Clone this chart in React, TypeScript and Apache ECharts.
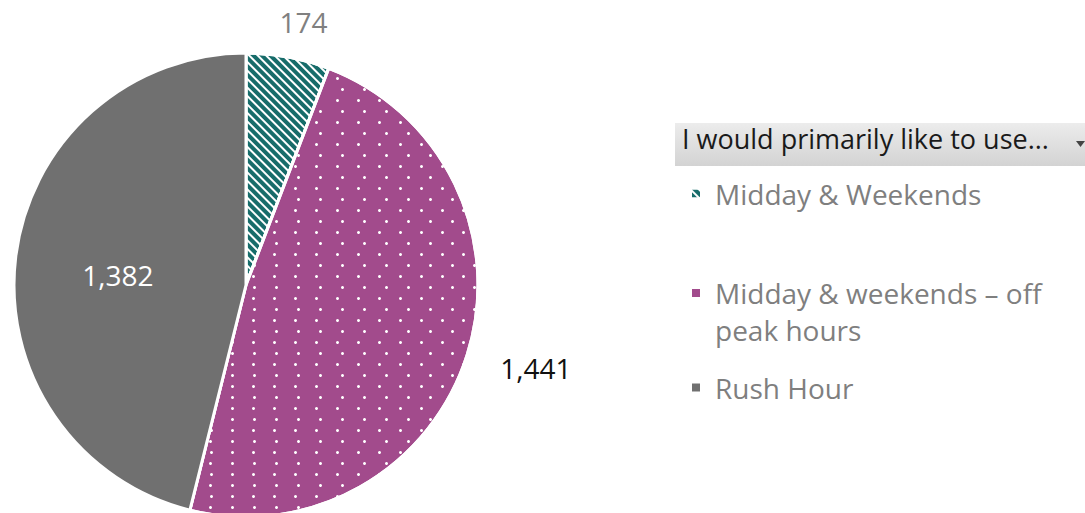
import React, { useEffect, useRef } from "react";
import * as echarts from "echarts";

const categories = ["Midday & Weekends", "Midday & weekends – off peak hours", "Rush Hour"];
const values = [174, 1441, 1382];
const legendTitle = "I would primarily like to use...";
const legendLabels = ["Midday & Weekends", "\nMidday & weekends – off\npeak hours", "Rush Hour"];

const TEAL = "#176c6a";
const PURPLE = "#a24b8c";
const GRAY = "#707070";
const FONT = "'Open Sans', 'Noto Sans', sans-serif";

export default function App() {
  const ref = useRef<HTMLDivElement>(null);
  useEffect(() => {
    document.body.style.margin = "0";
    const chart = echarts.init(ref.current!, null, { renderer: "svg" });
    const fmt = (v: number) => v.toLocaleString("en-US");
    const styles = [
      {
        itemStyle: {
          color: TEAL,
          decal: {
            symbol: "rect",
            symbolSize: 1,
            color: "#ffffff",
            dashArrayX: [1, 0],
            dashArrayY: [2, 3.2],
            rotation: Math.PI / 4,
          },
        },
        label: { position: "outside", color: "#808080" },
        labelLine: { show: false, length: 35, length2: -20 },
      },
      {
        itemStyle: {
          color: PURPLE,
          decal: {
            symbol: "circle",
            symbolSize: 1,
            color: "#ffffff",
            dashArrayX: [[3, 18], [0, 10.5, 3, 7.5]],
            dashArrayY: [3, 7.4],
            rotation: 0,
          },
        },
        label: { position: "outside", color: "#111111" },
        labelLine: { show: false, length: 44, length2: -14 },
      },
      {
        itemStyle: { color: GRAY },
        label: { position: "inside", color: "#ffffff", offset: [-10, 4] },
        labelLine: { show: false },
      },
    ];
    const data = categories.map((name, i) => ({ name, value: values[i], ...styles[i] }));
    const legendTops = [175, 237.5, 369];
    const legends = categories.map((name, i) => ({
      show: true,
      data: [name],
      left: 690,
      top: legendTops[i],
      orient: "vertical",
      padding: 0,
      icon: "rect",
      itemWidth: 10,
      itemHeight: 10,
      selectedMode: false,
      formatter: () => legendLabels[i],
      textStyle: {
        color: "#7f7f7f",
        fontFamily: FONT,
        fontSize: 28,
        lineHeight: 37,
        padding: [0, 0, 0, 9],
      },
    }));
    chart.setOption({
      animation: false,
      backgroundColor: "#ffffff",
      legend: legends,
      graphic: [
        {
          type: "rect",
          left: 675,
          top: 123,
          shape: { width: 420, height: 43 },
          style: {
            fill: new echarts.graphic.LinearGradient(0, 0, 0, 1, [
              { offset: 0, color: "#ececec" },
              { offset: 1, color: "#d3d3d3" },
            ]),
          },
        },
        {
          type: "text",
          left: 682,
          top: 125,
          style: {
            text: legendTitle,
            fill: "#1a1a1a",
            font: `27px ${FONT}`,
          },
        },
        {
          type: "polygon",
          shape: { points: [[1076, 141], [1085, 141], [1080.5, 147]] },
          style: { fill: "#444444" },
        },
      ],
      series: [
        {
          type: "pie",
          center: [246, 285],
          radius: 232,
          startAngle: 90,
          clockwise: true,
          avoidLabelOverlap: false,
          itemStyle: { borderColor: "#ffffff", borderWidth: 3 },
          label: {
            show: true,
            fontFamily: FONT,
            fontSize: 28,
            formatter: (p: any) => fmt(p.value),
          },
          emphasis: { disabled: true },
          data,
        },
      ],
    });
    return () => chart.dispose();
  }, []);
  return <div ref={ref} style={{ width: 1085, height: 513 }} />;
}
